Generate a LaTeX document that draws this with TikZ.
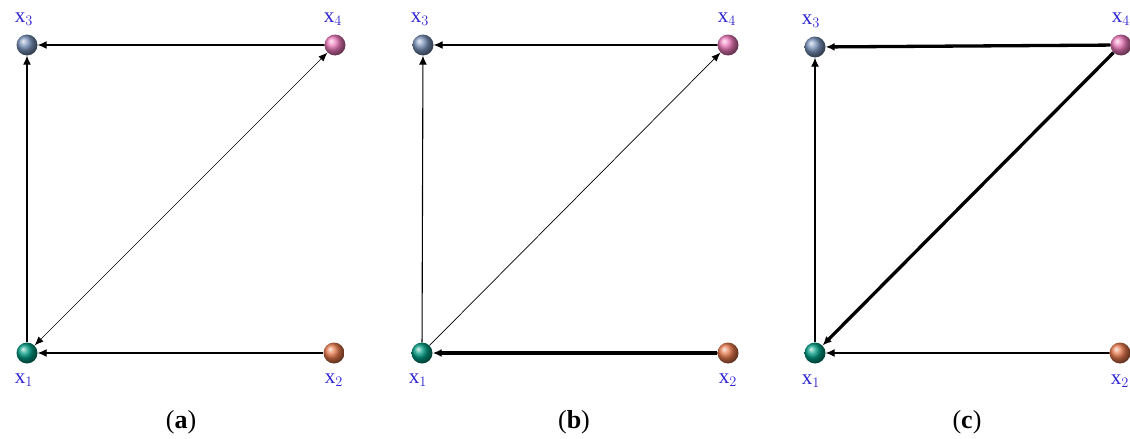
\documentclass[tikz,border=0pt]{standalone}
\usepackage{fontspec}
\setmainfont{Liberation Serif}
\usetikzlibrary{arrows.meta,shadings}
\definecolor{lbl}{RGB}{45,35,210}
\definecolor{cA}{RGB}{0,155,130}
\definecolor{cB}{RGB}{230,120,75}
\definecolor{cC}{RGB}{120,145,185}
\definecolor{cD}{RGB}{235,120,185}
\tikzset{
  ball/.style={circle,minimum size=21pt,inner sep=0pt,shading=ball,ball color=#1},
  lab/.style={text=lbl,font=\fontsize{21}{22}\selectfont,inner sep=0pt},
  edge/.style={line width=1.1pt,-{Latex[length=9pt,width=8pt]}},
  thick edge/.style={line width=3.3pt,-{Latex[length=9pt,width=8pt]}},
  diag/.style={line width=0.7pt,-{Latex[length=9pt,width=7pt]}},
  captext/.style={font=\fontsize{26}{28}\selectfont,inner sep=0pt}
}
\begin{document}
\begin{tikzpicture}[x=1pt,y=-1pt]
\useasboundingbox (0,0) rectangle (1130,439);
% ---------- panel a
\node[ball=cA] (a1) at (27,353) {};
\node[ball=cB] (a2) at (334,353) {};
\node[ball=cC] (a3) at (27,45) {};
\node[ball=cD] (a4) at (335,45) {};
\node[lab] (la1) at (24,380) {x$_1$};
\node[lab] (la2) at (334,380) {x$_2$};
\node[lab] (la3) at (24,19) {x$_3$};
\node[lab] (la4) at (333,19) {x$_4$};
\draw[edge] (a4) -- (a3);
\draw[edge] (a1) -- (a3);
\draw[edge] (a2) -- (a1);
\draw[diag,{Latex[length=9pt,width=7pt]}-{Latex[length=9pt,width=7pt]}] (a1) -- (a4);
\node[captext] (ca) at (181,422) {(\textbf{a})};
% ---------- panel b
\node[ball=cA] (b1) at (422,353) {};
\node[ball=cB] (b2) at (728,353) {};
\node[ball=cC] (b3) at (423,45) {};
\node[ball=cD] (b4) at (728,45) {};
\node[lab] (lb1) at (418,380) {x$_1$};
\node[lab] (lb2) at (728,380) {x$_2$};
\node[lab] (lb3) at (420,19) {x$_3$};
\node[lab] (lb4) at (727,19) {x$_4$};
\draw[edge] (b4) -- (b3);
\draw[edge] (b1) -- (b3);
\draw[thick edge] (b2) -- (b1);
\draw[diag] (b1) -- (b4);
\node[captext] (cb) at (574,422) {(\textbf{b})};
% ---------- panel c
\node[ball=cA] (c1) at (815,353) {};
\node[ball=cB] (c2) at (1120,353) {};
\node[ball=cC] (c3) at (815,47) {};
\node[ball=cD] (c4) at (1121,45) {};
\node[lab] (lc1) at (811,381) {x$_1$};
\node[lab] (lc2) at (1120,381) {x$_2$};
\node[lab] (lc3) at (811,21) {x$_3$};
\node[lab] (lc4) at (1121,19) {x$_4$};
\draw[thick edge] (c4) -- (c3);
\draw[edge] (c1) -- (c3);
\draw[edge] (c2) -- (c1);
\draw[thick edge] (c4) -- (c1);
\node[captext] (cc) at (967,422) {(\textbf{c})};
\end{tikzpicture}
\end{document}
